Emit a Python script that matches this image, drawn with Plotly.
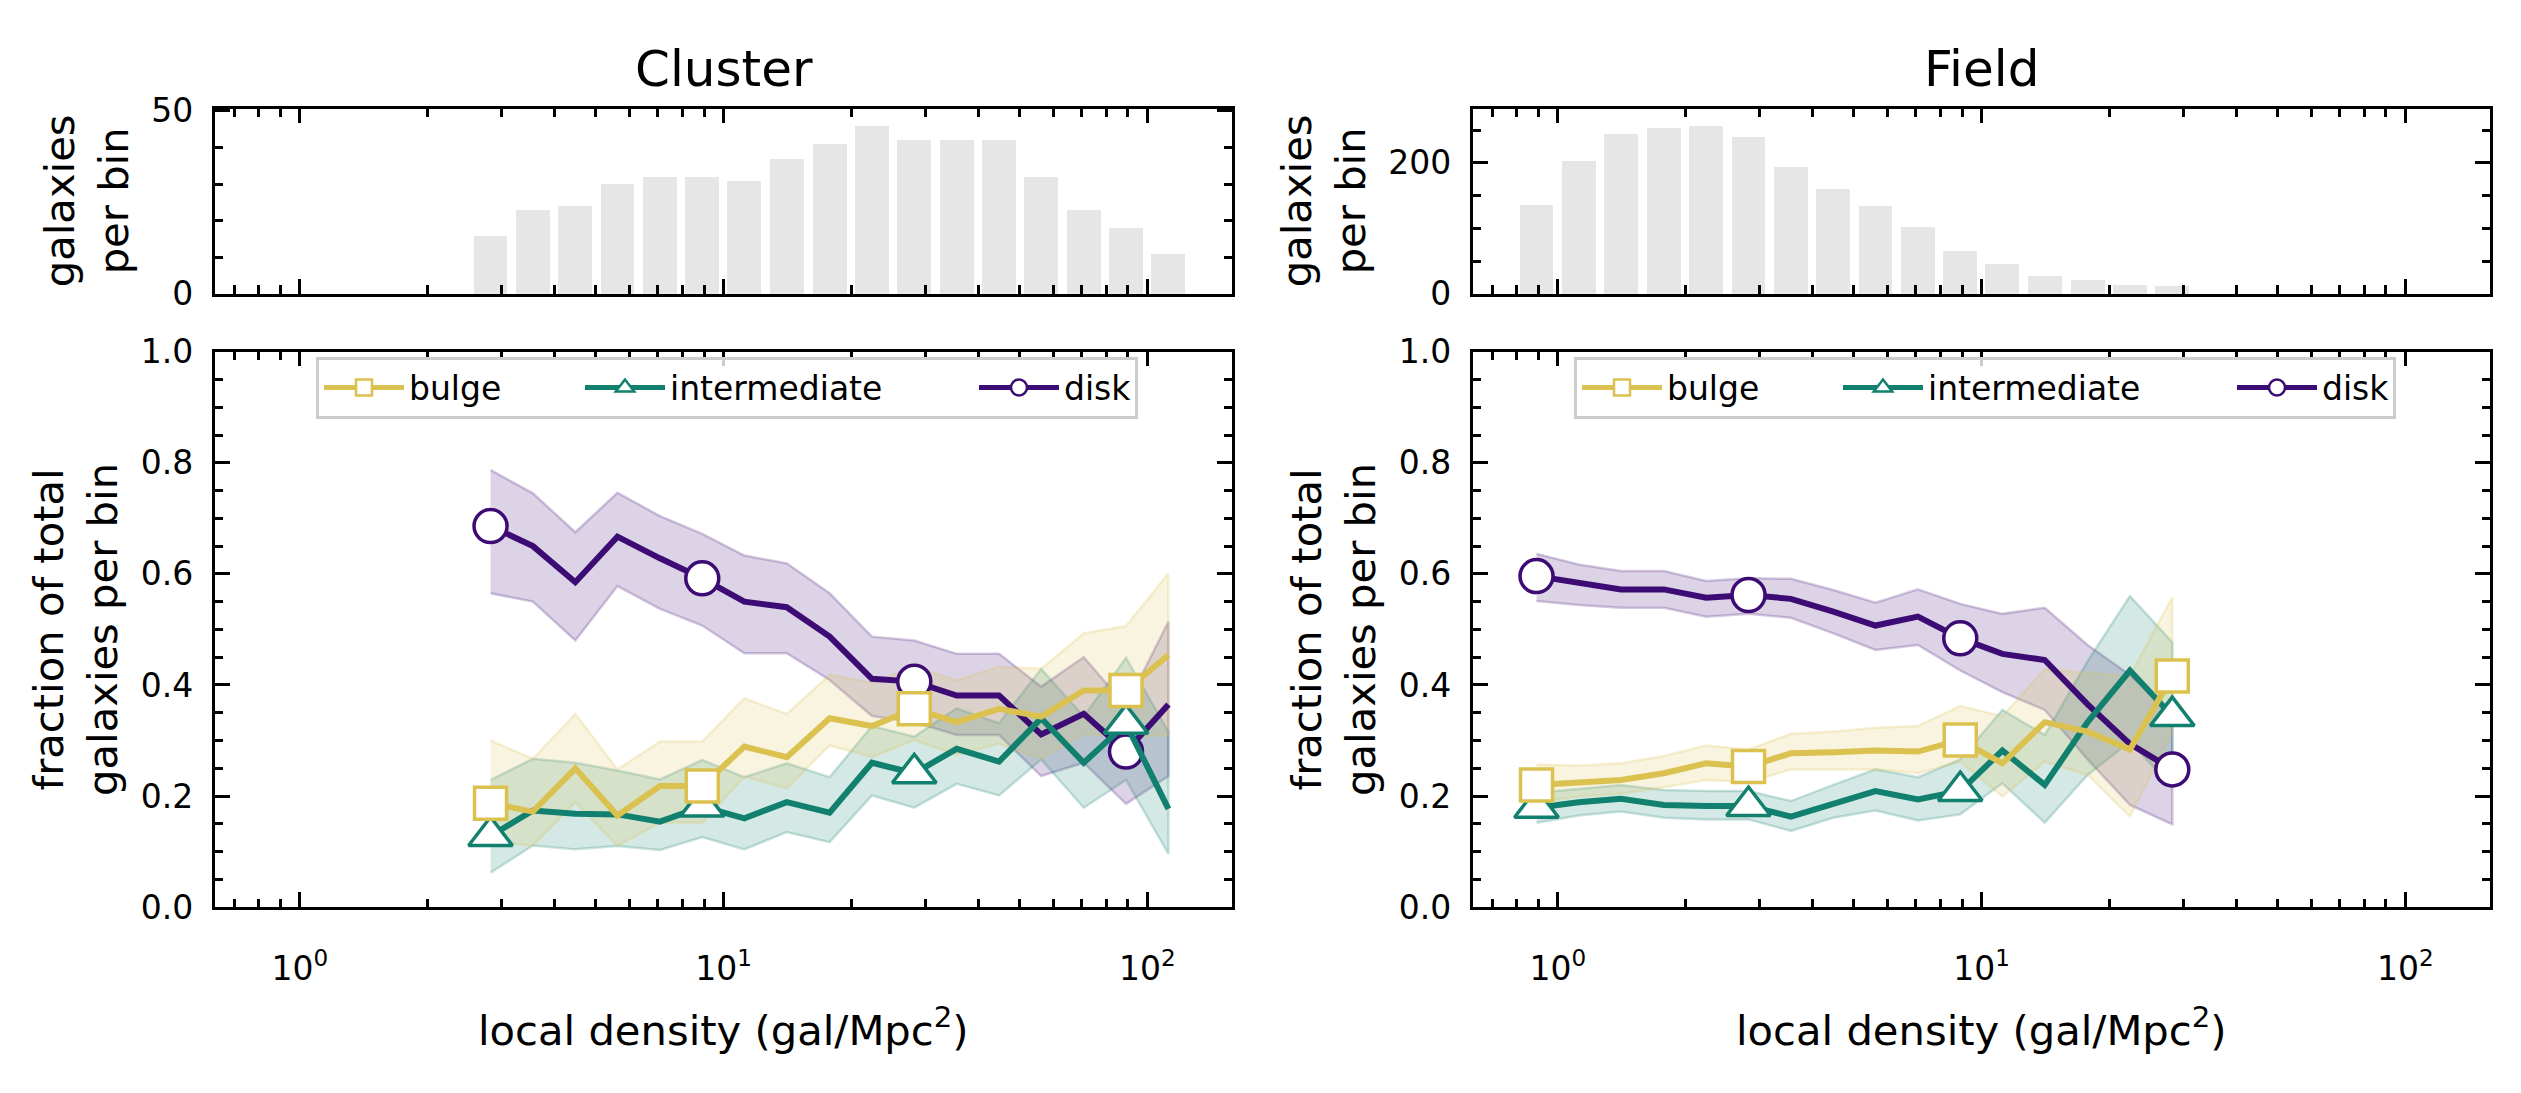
import numpy as np
import plotly.graph_objects as go

# ---------------- data ----------------
cluster_density = [2.82, 3.55, 4.47, 5.62, 7.08, 8.91, 11.2, 14.1, 17.8, 22.4,
                   28.2, 35.5, 44.7, 56.2, 70.8, 89.1, 112.2]
field_density = [0.891, 1.12, 1.41, 1.78, 2.24, 2.82, 3.55, 4.47, 5.62, 7.08,
                 8.91, 11.2, 14.1, 17.8, 22.4, 28.2]

cluster_counts = [16, 23, 24, 30, 32, 32, 31, 37, 41, 46, 42, 42, 42, 32, 23, 18, 11]
field_counts = [136, 204, 244, 253, 257, 240, 194, 161, 134, 103, 66, 46, 27, 22, 14, 12]

# Cluster fractions
bulge_c = [0.187, 0.172, 0.250, 0.165, 0.218, 0.218, 0.289, 0.270, 0.340, 0.326,
           0.357, 0.333, 0.357, 0.343, 0.390, 0.390, 0.454]
bulge_c_hi = [0.300, 0.267, 0.348, 0.248, 0.298, 0.298, 0.376, 0.348, 0.418, 0.404,
              0.433, 0.408, 0.433, 0.429, 0.493, 0.506, 0.601]
bulge_c_lo = [0.117, 0.111, 0.189, 0.110, 0.152, 0.152, 0.235, 0.214, 0.291, 0.270,
              0.301, 0.274, 0.294, 0.267, 0.312, 0.305, 0.310]

inter_c = [0.128, 0.174, 0.168, 0.167, 0.154, 0.181, 0.160, 0.189, 0.170, 0.260,
           0.241, 0.285, 0.262, 0.340, 0.260, 0.330, 0.177]
inter_c_hi = [0.229, 0.267, 0.260, 0.246, 0.230, 0.265, 0.234, 0.259, 0.234, 0.326,
              0.307, 0.358, 0.331, 0.429, 0.343, 0.449, 0.316]
inter_c_lo = [0.062, 0.111, 0.104, 0.110, 0.103, 0.126, 0.104, 0.135, 0.117, 0.201,
              0.179, 0.222, 0.201, 0.266, 0.179, 0.229, 0.096]

disk_c = [0.686, 0.650, 0.585, 0.667, 0.628, 0.592, 0.550, 0.540, 0.487, 0.411,
          0.406, 0.381, 0.381, 0.311, 0.348, 0.280, 0.365]
disk_c_hi = [0.787, 0.745, 0.675, 0.746, 0.704, 0.672, 0.633, 0.619, 0.565, 0.487,
             0.480, 0.456, 0.456, 0.397, 0.450, 0.362, 0.514]
disk_c_lo = [0.565, 0.550, 0.480, 0.578, 0.537, 0.507, 0.457, 0.457, 0.409, 0.344,
             0.333, 0.310, 0.310, 0.236, 0.260, 0.186, 0.236]

# Field fractions
bulge_f = [0.220, 0.225, 0.229, 0.241, 0.259, 0.253, 0.277, 0.279, 0.282, 0.280,
           0.301, 0.259, 0.333, 0.316, 0.284, 0.416]
bulge_f_hi = [0.257, 0.255, 0.259, 0.272, 0.291, 0.284, 0.312, 0.316, 0.323, 0.326,
              0.362, 0.344, 0.428, 0.422, 0.416, 0.558]
bulge_f_lo = [0.188, 0.199, 0.204, 0.216, 0.229, 0.225, 0.248, 0.248, 0.248, 0.241,
              0.262, 0.199, 0.262, 0.238, 0.163, 0.316]

inter_f = [0.179, 0.189, 0.195, 0.184, 0.182, 0.182, 0.163, 0.187, 0.209, 0.194,
           0.209, 0.282, 0.220, 0.333, 0.426, 0.344]
inter_f_hi = [0.206, 0.213, 0.220, 0.211, 0.209, 0.209, 0.191, 0.220, 0.248, 0.234,
              0.266, 0.355, 0.310, 0.443, 0.560, 0.477]
inter_f_lo = [0.152, 0.165, 0.172, 0.161, 0.158, 0.158, 0.137, 0.161, 0.174, 0.156,
              0.167, 0.223, 0.152, 0.238, 0.298, 0.216]

disk_f = [0.596, 0.584, 0.572, 0.572, 0.557, 0.562, 0.555, 0.532, 0.507, 0.523,
          0.484, 0.456, 0.445, 0.365, 0.294, 0.248]
disk_f_hi = [0.636, 0.617, 0.605, 0.605, 0.587, 0.592, 0.591, 0.571, 0.548, 0.572,
             0.546, 0.528, 0.539, 0.472, 0.418, 0.351]
disk_f_lo = [0.551, 0.544, 0.539, 0.539, 0.523, 0.528, 0.521, 0.493, 0.463, 0.472,
             0.426, 0.387, 0.355, 0.266, 0.184, 0.149]

series_names = ["bulge", "intermediate", "disk"]
panel_titles = ["Cluster", "Field"]
x_tick_vals = [1, 10, 100]
x_tick_text = ["10<sup>0</sup>", "10<sup>1</sup>", "10<sup>2</sup>"]
x_minor_vals = [0.7, 0.8, 0.9, 2, 3, 4, 5, 6, 7, 8, 9, 20, 30, 40, 50, 60, 70, 80, 90]
x_label = "local density (gal/Mpc<sup>2</sup>)"
hist_label = "galaxies<br>per bin"
frac_label = "fraction of total<br>galaxies per bin"

# ---------------- style ----------------
FONT = "DejaVu Sans"
COLORS = {"bulge": "#dbc14f", "intermediate": "#11806e", "disk": "#3d0b74"}
SYMBOLS = {"bulge": "square", "intermediate": "triangle-up", "disk": "circle"}
MSIZE = {"bulge": 32, "intermediate": 38, "disk": 33}
LEG_W = {"bulge": 166, "intermediate": 299, "disk": 66}
W, H = 2521, 1093
LX = [215 / W, 1232 / W]
RX = [1473 / W, 2490 / W]
HY = [1 - 285 / H, 1 - 93 / H]
MY = [1 - 921 / H, 1 - 345 / H]
XR = [-0.2, 2.2]


def rgba(hexc, a):
    h = hexc.lstrip("#")
    r, g, b = int(h[0:2], 16), int(h[2:4], 16), int(h[4:6], 16)
    return f"rgba({r},{g},{b},{a})"


fig = go.Figure()


def add_hist(density, counts, xa, ya):
    fig.add_trace(go.Bar(
        x=np.log10(density), y=counts, width=0.08,
        marker=dict(color="#e6e6e6", line=dict(width=0)),
        xaxis=xa, yaxis=ya, showlegend=False, hoverinfo="skip"))


add_hist(cluster_density, cluster_counts, "x", "y")
add_hist(field_density, field_counts, "x3", "y3")


def add_panel(density, data, xa, ya, legend):
    for name in ["disk", "intermediate", "bulge"]:
        y, lo, hi = data[name]
        c = COLORS[name]
        fig.add_trace(go.Scatter(
            x=list(density) + list(density)[::-1], y=list(hi) + list(lo)[::-1],
            fill="toself", fillcolor=rgba(c, 0.18), mode="lines",
            line=dict(color=rgba(c, 0.22), width=2.5),
            xaxis=xa, yaxis=ya, showlegend=False, hoverinfo="skip"))
    for name in ["disk", "intermediate", "bulge"]:
        y, lo, hi = data[name]
        c = COLORS[name]
        fig.add_trace(go.Scatter(
            x=density, y=y, mode="lines", line=dict(color=c, width=6),
            xaxis=xa, yaxis=ya, showlegend=False))
        fig.add_trace(go.Scatter(
            x=list(density)[::5], y=list(y)[::5], mode="markers",
            marker=dict(symbol=SYMBOLS[name], size=MSIZE[name], color="white",
                        line=dict(color=c, width=3.5)),
            xaxis=xa, yaxis=ya, showlegend=False))
    for name in series_names:
        c = COLORS[name]
        fig.add_trace(go.Scatter(
            x=[None], y=[None], mode="lines+markers", name=name,
            line=dict(color=c, width=5),
            marker=dict(symbol=SYMBOLS[name], size=16, color="white",
                        line=dict(color=c, width=2.5)),
            legendwidth=LEG_W[name],
            xaxis=xa, yaxis=ya, legend=legend, showlegend=True))


add_panel(cluster_density, {"bulge": (bulge_c, bulge_c_lo, bulge_c_hi),
                            "intermediate": (inter_c, inter_c_lo, inter_c_hi),
                            "disk": (disk_c, disk_c_lo, disk_c_hi)}, "x2", "y2", "legend")
add_panel(field_density, {"bulge": (bulge_f, bulge_f_lo, bulge_f_hi),
                          "intermediate": (inter_f, inter_f_lo, inter_f_hi),
                          "disk": (disk_f, disk_f_lo, disk_f_hi)}, "x4", "y4", "legend2")

base = dict(showline=True, linecolor="black", linewidth=3.3, mirror="allticks",
            ticks="inside", ticklen=14.6, tickwidth=3.3, tickcolor="black",
            showgrid=False, zeroline=False,
            tickfont=dict(family=FONT, size=33, color="black"))
minor_base = dict(ticks="inside", ticklen=8.3, tickwidth=2.5, tickcolor="black")


def xlog(domain, anchor):
    d = dict(base)
    d.update(type="log", range=XR, domain=domain, anchor=anchor,
             tickmode="array", tickvals=x_tick_vals, ticktext=x_tick_text,
             showticklabels=True, ticklabelstandoff=30,
             minor=dict(minor_base, tickmode="array", tickvals=x_minor_vals))
    return d


def xhist(domain, anchor):
    # linear axis in log10 units (for bars), ticks placed at the log positions
    d = dict(base)
    d.update(type="linear", range=XR, domain=domain, anchor=anchor,
             tickmode="array", tickvals=list(np.log10(x_tick_vals)),
             showticklabels=False,
             minor=dict(minor_base, tickmode="array", tickvals=list(np.log10(x_minor_vals))))
    return d


def ylin(domain, anchor, rng, dtick, mdtick, fmt):
    d = dict(base)
    d.update(range=rng, domain=domain, anchor=anchor, dtick=dtick, tick0=0,
             tickformat=fmt, ticklabelstandoff=12,
             minor=dict(minor_base, dtick=mdtick, tick0=0))
    return d


legend_common = dict(orientation="h", xanchor="left", yanchor="top",
                     bgcolor="rgba(255,255,255,0.8)", bordercolor="#cccccc", borderwidth=3,
                     font=dict(family=FONT, size=33, color="black"),
                     itemwidth=80, entrywidthmode="pixels")

fig.update_layout(
    width=W, height=H, autosize=False,
    margin=dict(l=0, r=0, t=0, b=0),
    paper_bgcolor="white", plot_bgcolor="white",
    font=dict(family=FONT, size=33, color="black"),
    bargap=0,
    xaxis=xhist(LX, "y"),
    yaxis=ylin(HY, "x", [0, 50.6], 50, 10, "d"),
    xaxis2=xlog(LX, "y2"),
    yaxis2=ylin(MY, "x2", [0, 1], 0.2, 0.05, ".1f"),
    xaxis3=xhist(RX, "y3"),
    yaxis3=ylin(HY, "x3", [0, 282.7], 200, 50, "d"),
    xaxis4=xlog(RX, "y4"),
    yaxis4=ylin(MY, "x4", [0, 1], 0.2, 0.05, ".1f"),
    legend=dict(legend_common, x=316 / W, y=1 - 350 / H),
    legend2=dict(legend_common, x=1574 / W, y=1 - 350 / H),
)

annotations = []
for dom, title in zip([LX, RX], panel_titles):
    cx = (dom[0] + dom[1]) / 2
    annotations.append(dict(text=title, x=cx, y=1 - 52 / H, xref="paper", yref="paper",
                            showarrow=False, xanchor="center", yanchor="middle",
                            font=dict(family=FONT, size=50, color="black")))
    annotations.append(dict(text=x_label, x=cx, y=1 - 1046 / H, xref="paper", yref="paper",
                            showarrow=False, xanchor="center", yanchor="middle",
                            font=dict(family=FONT, size=41.7, color="black")))
hist_lab_x = [86 / W, 1323 / W]
frac_lab_x = [75.5 / W, 1333.5 / W]
for hx, fx in zip(hist_lab_x, frac_lab_x):
    annotations.append(dict(text=hist_label, x=hx, y=1 - 189 / H, xref="paper", yref="paper",
                            showarrow=False, xanchor="center", yanchor="middle", textangle=-90,
                            font=dict(family=FONT, size=41.7, color="black")))
    annotations.append(dict(text=frac_label, x=fx, y=1 - 633 / H, xref="paper", yref="paper",
                            showarrow=False, xanchor="center", yanchor="middle", textangle=-90,
                            font=dict(family=FONT, size=41.7, color="black")))
fig.update_layout(annotations=annotations)

fig.write_html("out.html")
